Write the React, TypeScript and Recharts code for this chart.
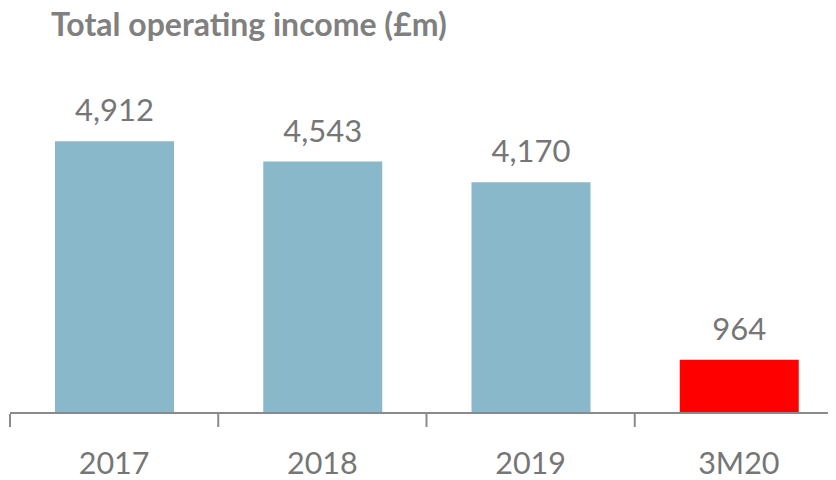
import React from 'react';
import { BarChart, Bar, XAxis, YAxis, Cell, LabelList } from 'recharts';

const categories = ['2017', '2018', '2019', '3M20'];
const income = [4912, 4543, 4170, 964];
const title = 'Total operating income (£m)';

const data = categories.map((c, i) => ({ category: c, income: income[i] }));

const BAND = 833 / 4;
const FONT = 'Lato, "Open Sans", sans-serif';
const TEXT_GREY = '#767676';

const AxisTick = (props: any) => {
  const { x, y, payload } = props;
  const lx = x - BAND / 2;
  return (
    <g>
      <line x1={lx} x2={lx} y1={y + 1} y2={y + 14} stroke="#8a8a8a" strokeWidth={2} />
      <text x={x} y={y + 61} textAnchor="middle" fill={TEXT_GREY} fontSize={30.5} fontFamily={FONT}>
        {payload.value}
      </text>
    </g>
  );
};

const ValueLabel = (props: any) => {
  const { x, y, width, value } = props;
  return (
    <text x={x + width / 2} y={y - 20} textAnchor="middle" fill={TEXT_GREY} fontSize={31} fontFamily={FONT}>
      {Number(value).toLocaleString('en-GB')}
    </text>
  );
};

export default function App() {
  return (
    <div style={{ position: 'relative', width: 828, height: 472, background: '#fff' }}>
      <div style={{ position: 'absolute', left: 0, top: 0, width: 828, height: 472, overflow: 'hidden' }}>
        <BarChart
          width={836}
          height={472}
          data={data}
          margin={{ top: 73, right: 1, left: 2, bottom: 0 }}
          barSize={119}
        >
          <XAxis
            dataKey="category"
            height={67}
            axisLine={{ stroke: '#8a8a8a', strokeWidth: 2 }}
            tickLine={false}
            tickSize={0}
            tickMargin={0}
            tick={<AxisTick />}
            interval={0}
          />
          <YAxis hide domain={[0, 6000]} />
          <Bar dataKey="income" isAnimationActive={false}>
            {data.map((d) => (
              <Cell key={d.category} fill={d.category === '3M20' ? '#ff0000' : '#8ab8cb'} />
            ))}
            <LabelList dataKey="income" content={<ValueLabel />} />
          </Bar>
        </BarChart>
      </div>
      <div
        style={{
          position: 'absolute',
          left: 43,
          top: -4,
          fontFamily: FONT,
          fontWeight: 700,
          fontSize: 32,
          lineHeight: '40px',
          color: '#808080',
          whiteSpace: 'nowrap',
        }}
      >
        {title}
      </div>
    </div>
  );
}
